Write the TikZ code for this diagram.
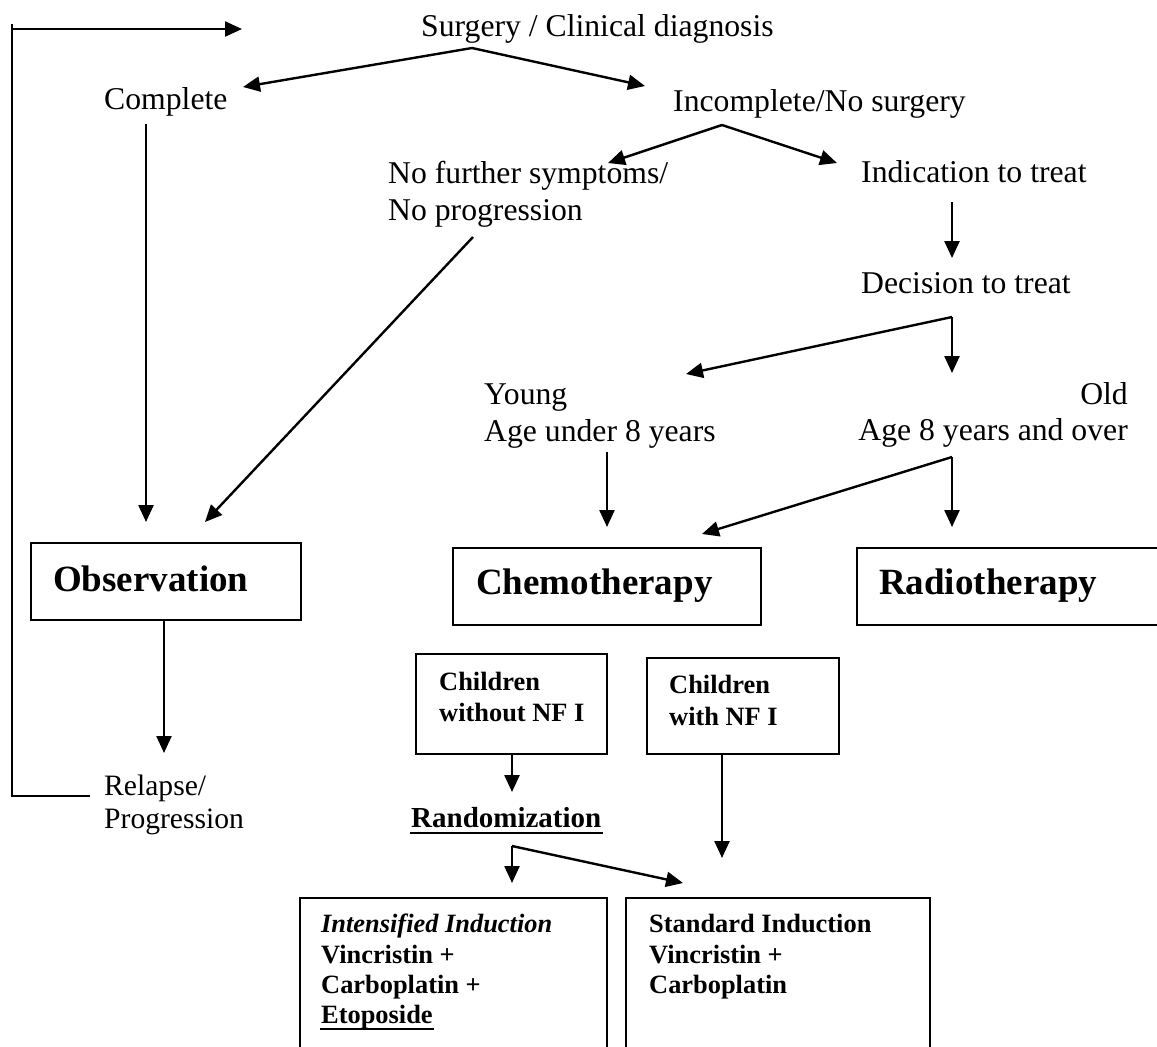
\documentclass[tikz,border=0pt]{standalone}
\usepackage{fontspec}
\setmainfont{Liberation Serif}
\usetikzlibrary{arrows.meta,fit}
\begin{document}
\begin{tikzpicture}[x=0.5pt,y=-0.5pt,
  line width=1.2pt,
  arr/.style={-{Triangle[length=8.5pt,width=7.5pt]}},
  txt/.style={inner sep=0pt,anchor=base west,font=\fontsize{15.85pt}{19pt}\selectfont},
  smtxt/.style={inner sep=0pt,anchor=base west,font=\fontsize{14.8pt}{17pt}\selectfont},
  btxt/.style={inner sep=0pt,anchor=base west,font=\fontsize{13.2pt}{16pt}\selectfont\bfseries},
  rtxt/.style={inner sep=0pt,anchor=base west,font=\fontsize{14.5pt}{17pt}\selectfont\bfseries},
  bigtxt/.style={inner sep=0pt,anchor=base west,font=\fontsize{18.5pt}{22pt}\selectfont\bfseries},
  boxst/.style={draw,inner sep=0pt,line width=1.1pt},
  ul/.style={line width=1.1pt}]
\useasboundingbox (0,0) rectangle (1157,1046);
\clip (0,0) rectangle (1157,1046);

% plain texts
\node[txt] (surg) at (420,36) {Surgery / Clinical diagnosis};
\node[txt] (compl) at (103,109) {Complete};
\node[txt] (incompl) at (672,111) {Incomplete/No surgery};
\node[txt] (nf1) at (387,183) {No further symptoms/};
\node[txt] (nf2) at (387,220) {No progression};
\node[txt] (indic) at (860,182) {Indication to treat};
\node[txt] (decis) at (860,293) {Decision to treat};
\node[txt] (young) at (483,404) {Young};
\node[txt] (youngage) at (483,441) {Age under 8 years};
\node[txt,anchor=base east] (old) at (1129,404) {Old};
\node[txt,anchor=base east] (oldage) at (1129,440) {Age 8 years and over};
\node[smtxt] (rel1) at (103,795) {Relapse/};
\node[smtxt] (rel2) at (103,828) {Progression};

% boxes
\node[boxst,fit={(31,543) (301,620)}] (obs) {};
\node[bigtxt] (obst) at (52,591) {Observation};
\node[boxst,fit={(453,548) (761,625)}] (chemo) {};
\node[bigtxt] (chemot) at (475,594) {Chemotherapy};
\node[boxst,fit={(857,548) (1180,625)}] (radio) {};
\node[bigtxt] (radiot) at (878,594) {Radiotherapy};
\node[boxst,fit={(416,654) (607,754)}] (wo) {};
\node[btxt] (wo1) at (438,690) {Children};
\node[btxt] (wo2) at (438,721) {without NF I};
\node[boxst,fit={(647,658) (839,754)}] (wi) {};
\node[btxt] (wi1) at (668,693) {Children};
\node[btxt] (wi2) at (668,725) {with NF I};
\node[rtxt] (rand) at (410,827) {Randomization};
\draw[ul] ([yshift=-2.8pt]rand.base west) -- ([yshift=-2.8pt]rand.base east);
\node[boxst,fit={(300,898) (607,1080)}] (inten) {};
\node[btxt] (in1) at (320,932) {\itshape Intensified Induction};
\node[btxt] (in2) at (320,963) {Vincristin +};
\node[btxt] (in3) at (320,993) {Carboplatin +};
\node[btxt] (in4) at (320,1023) {Etoposide};
\draw[ul] ([yshift=-3pt]in4.base west) -- ([yshift=-3pt]in4.base east);
\node[boxst,fit={(626,898) (930,1080)}] (stand) {};
\node[btxt] (st1) at (648,932) {Standard Induction};
\node[btxt] (st2) at (648,963) {Vincristin +};
\node[btxt] (st3) at (648,993) {Carboplatin};

% connector points
\coordinate (fbtop) at (12,24);
\coordinate (fbcorner) at (12,29);
\coordinate (fbtip) at (242,29);
\coordinate (fbbot) at (12,796);
\coordinate (relend) at (90,796);
\coordinate (a1) at (472,48);
\coordinate (a1l) at (243,87);
\coordinate (a1r) at (645,86);
\coordinate (cs) at (146,124);
\coordinate (ct) at (146,522);
\coordinate (a2) at (722,125);
\coordinate (a2l) at (608,163);
\coordinate (a2r) at (837,163);
\coordinate (ds) at (473,237);
\coordinate (dt) at (205,522);
\coordinate (is) at (952,202);
\coordinate (it) at (952,258);
\coordinate (a3) at (952,317);
\coordinate (a3l) at (686,374);
\coordinate (a3r) at (952,373);
\coordinate (ys) at (607,452);
\coordinate (yt) at (607,527);
\coordinate (a4) at (952,457);
\coordinate (a4l) at (702,534);
\coordinate (a4r) at (952,527);
\coordinate (os) at (164,620);
\coordinate (ot) at (164,753);
\coordinate (wos) at (512,754);
\coordinate (wot) at (512,792);
\coordinate (wis) at (722,754);
\coordinate (wit) at (722,858);
\coordinate (a5) at (512,846);
\coordinate (a5l) at (512,883);
\coordinate (a5r) at (683,883);

% connectors
\draw (relend) -- (fbbot) -- (fbtop);
\draw[arr] (fbcorner) -- (fbtip);
\draw[arr] (a1) -- (a1l);
\draw[arr] (a1) -- (a1r);
\draw[arr] (cs) -- (ct);
\draw[arr] (a2) -- (a2l);
\draw[arr] (a2) -- (a2r);
\draw[arr] (ds) -- (dt);
\draw[arr] (is) -- (it);
\draw[arr] (a3) -- (a3l);
\draw[arr] (a3) -- (a3r);
\draw[arr] (ys) -- (yt);
\draw[arr] (a4) -- (a4l);
\draw[arr] (a4) -- (a4r);
\draw[arr] (os) -- (ot);
\draw[arr] (wos) -- (wot);
\draw[arr] (wis) -- (wit);
\draw[arr] (a5) -- (a5l);
\draw[arr] (a5) -- (a5r);
\end{tikzpicture}
\end{document}
